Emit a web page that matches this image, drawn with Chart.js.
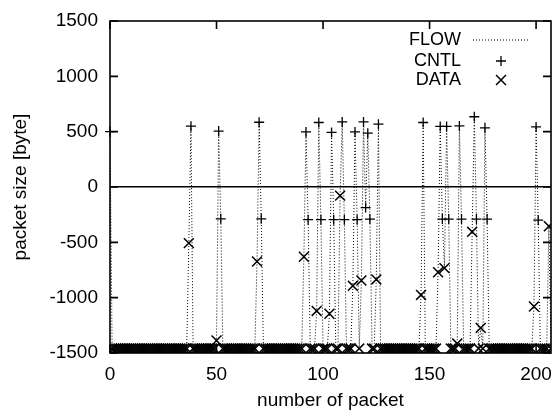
<!DOCTYPE html>
<html><head><meta charset="utf-8">
<script src="https://cdn.jsdelivr.net/npm/chart.js@4"></script>
<style>html,body{margin:0;padding:0;background:#fff}#c{display:block}</style>
</head><body>
<canvas id="c" width="552" height="412"></canvas>
<script>
// packet size per packet number (0..207); negative = downstream
const packetSize = [
  500,-1460,-1460,-1460,-1460,-1460,-1460,-1460,-1460,-1460,
  -1460,-1460,-1460,-1460,-1460,-1460,-1460,-1460,-1460,-1460,
  -1460,-1460,-1460,-1460,-1460,-1460,-1460,-1460,-1460,-1460,
  -1460,-1460,-1460,-1460,-1460,-1460,-1460,-507,550,-1460,
  -1460,-1460,-1460,-1460,-1460,-1460,-1460,-1460,-1460,-1460,
  -1387,505,-288,-1460,-1460,-1460,-1460,-1460,-1460,-1460,
  -1460,-1460,-1460,-1460,-1460,-1460,-1460,-1460,-1460,-673,
  585,-288,-1460,-1460,-1460,-1460,-1460,-1460,-1460,-1460,
  -1460,-1460,-1460,-1460,-1460,-1460,-1460,-1460,-1460,-1460,
  -1460,-630,498,-295,-1460,-1460,-1460,-1120,583,-295,
  -1460,-1460,-1460,-1145,493,-295,-1460,-1460,-78,588,
  -295,-1460,-1460,-1460,-893,498,-295,-1460,-845,588,
  -186,486,-290,-1460,-1460,-835,568,-1460,-1460,-1460,
  -1460,-1460,-1460,-1460,-1460,-1460,-1460,-1460,-1460,-1460,
  -1460,-1460,-1460,-1460,-1460,-1460,-975,583,-1460,-1460,
  -1460,-1460,-1460,-1460,-770,547,-290,-733,547,-290,
  -1460,-1460,-1460,-1415,552,-290,-1460,-1460,-1460,-1460,
  -405,635,-290,-1460,-1273,-1460,535,-290,-1460,-1460,
  -1460,-1460,-1460,-1460,-1460,-1460,-1460,-1460,-1460,-1460,
  -1460,-1460,-1460,-1460,-1460,-1460,-1460,-1460,-1460,-1080,
  543,-300,-1460,-1460,-1460,-1460,-355,-1460
];
// packet numbers that are control packets (all others are data packets)
const cntlPackets = [0,38,51,52,70,71,92,93,98,99,104,105,109,110,115,116,119,120,121,122,126,147,155,156,158,159,164,165,171,172,176,177,200,201];
const xTicks = [0,50,100,150,200];
const yTicks = [-1500,-1000,-500,0,500,1000,1500];
const seriesNames = ['FLOW','CNTL','DATA'];

const flowPoints = packetSize.map((v,i)=>({x:i,y:v}));
const cntlSet = new Set(cntlPackets);
const cntlPoints = flowPoints.filter(p=>cntlSet.has(p.x));
const dataPoints = flowPoints.filter(p=>!cntlSet.has(p.x));

const FONT = 'Liberation Sans, Arial, sans-serif';

const frame = {
  id:'frame',
  afterLayout(chart){
    const a = chart.chartArea, x = chart.scales.x;
    const R = chart.width - 1;
    a.right = R; a.width = R - a.left;
    x.right = R; x.width = R - x.left;
    x.configure();
  },
  afterDraw(chart){
    const {ctx, chartArea:a, scales:{x,y}} = chart;
    ctx.save();
    ctx.strokeStyle='#000'; ctx.lineWidth=1.6;
    ctx.strokeRect(a.left, a.top, a.right-a.left, a.bottom-a.top);
    const L=8;
    ctx.beginPath();
    x.ticks.forEach(t=>{const px=x.getPixelForValue(t.value);
      ctx.moveTo(px,a.bottom); ctx.lineTo(px,a.bottom-L);
      ctx.moveTo(px,a.top); ctx.lineTo(px,a.top+L);});
    y.ticks.forEach(t=>{const py=y.getPixelForValue(t.value);
      ctx.moveTo(a.left,py); ctx.lineTo(a.left+L,py);
      ctx.moveTo(a.right,py); ctx.lineTo(a.right-L,py);});
    ctx.stroke();
    // legend
    const ds = chart.data.datasets;
    const tx = a.right-90, sx = a.right-50;
    const rows = [a.top+19, a.top+40, a.top+59];
    ctx.font = '18px '+FONT; ctx.fillStyle='#000';
    ctx.textAlign='right'; ctx.textBaseline='middle';
    ds.forEach((d,i)=>{
      ctx.fillText(d.label, tx, rows[i]);
      if(i===0){
        ctx.save(); ctx.setLineDash(d.borderDash); ctx.lineWidth=d.borderWidth; ctx.strokeStyle=d.borderColor;
        ctx.beginPath(); ctx.moveTo(a.right-78, rows[i]); ctx.lineTo(a.right-22, rows[i]); ctx.stroke(); ctx.restore();
      } else {
        ctx.strokeStyle=d.borderColor; ctx.lineWidth=d.borderWidth;
        Chart.helpers.drawPoint(ctx,{pointStyle:d.pointStyle,radius:d.pointRadius,rotation:0,borderWidth:d.borderWidth}, sx, rows[i]);
      }
    });
    ctx.restore();
  }
};

new Chart(document.getElementById('c'), {
  type:'scatter',
  data:{datasets:[
    {label:seriesNames[0], data:flowPoints, showLine:true, pointRadius:0, borderColor:'#000', borderWidth:1, borderDash:[1,2], fill:false},
    {label:seriesNames[1], data:cntlPoints, pointStyle:'cross', pointRadius:5, borderColor:'#000', backgroundColor:'#000', borderWidth:1.3, clip:false},
    {label:seriesNames[2], data:dataPoints, pointStyle:'crossRot', pointRadius:7, borderColor:'#000', backgroundColor:'#000', borderWidth:1.5}
  ]},
  options:{
    responsive:false, animation:false, devicePixelRatio:1,
    layout:{padding:{left:0,right:1,top:21,bottom:0}},
    plugins:{legend:{display:false}, tooltip:{enabled:false}},
    scales:{
      x:{type:'linear', min:0, max:207,
        afterBuildTicks:s=>{s.ticks=xTicks.map(v=>({value:v}));},
        afterFit:s=>{s.height=59; s.paddingLeft=0; s.paddingRight=0;},
        ticks:{color:'#000', font:{family:FONT,size:19}, padding:10, maxRotation:0, callback:v=>String(v)},
        grid:{display:false, drawTicks:false}, border:{display:false},
        title:{display:true, text:'number of packet', color:'#000', font:{family:FONT,size:19}, padding:0}
      },
      y:{type:'linear', min:-1500, max:1500,
        afterBuildTicks:s=>{s.ticks=yTicks.map(v=>({value:v}));},
        afterFit:s=>{s.width=110; s.paddingTop=0; s.paddingBottom=0;},
        ticks:{color:'#000', font:{family:FONT,size:19}, padding:12, callback:v=>String(v)},
        grid:{drawTicks:false, lineWidth:1.5, color:c=>c.tick && c.tick.value===0 ? '#000' : 'rgba(0,0,0,0)'},
        border:{display:false},
        title:{display:true, text:'packet size [byte]', color:'#000', font:{family:FONT,size:19}, padding:{top:9,bottom:0}}
      }
    }
  },
  plugins:[frame]
});
</script>
</body></html>
